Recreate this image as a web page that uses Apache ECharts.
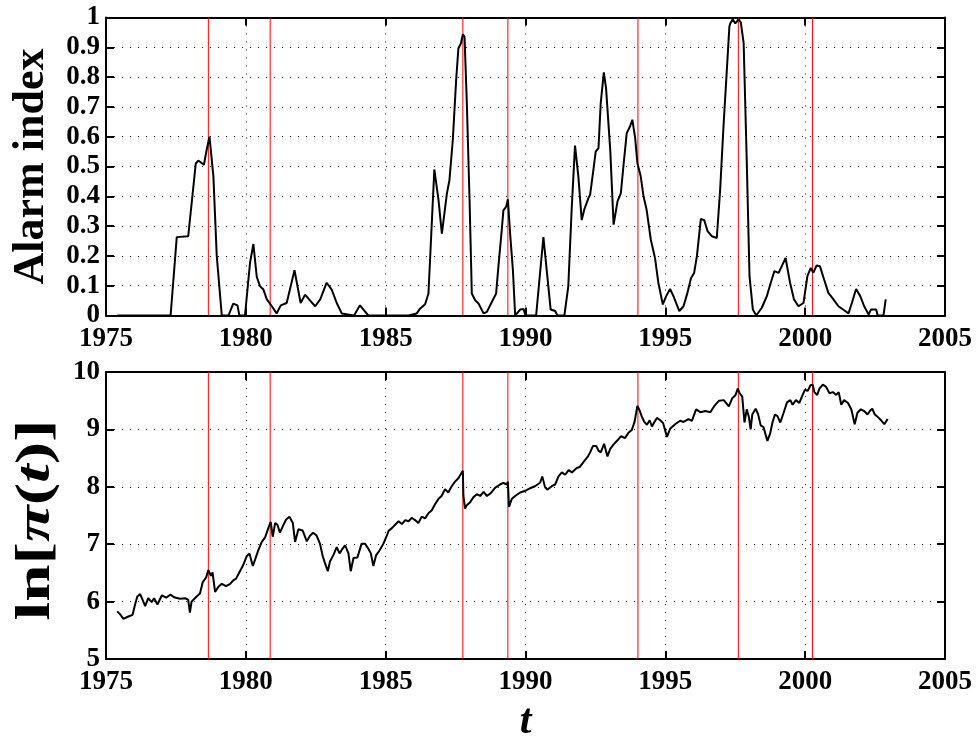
<!DOCTYPE html>
<html>
<head>
<meta charset="utf-8">
<script src="https://cdn.jsdelivr.net/npm/echarts@6/dist/echarts.min.js"></script>
<style>
html,body{margin:0;padding:0;background:#fff;}
#chart{width:978px;height:744px;}
</style>
</head>
<body>
<div id="chart"></div>
<script>
// ---- Data ----
const crashYears = [1978.66, 1980.87, 1987.76, 1989.37, 1994.02, 1997.61, 2000.26];

const alarmYears = [1975.40,1977.31,1977.53,1977.94,1978.21,1978.30,1978.50,1978.60,1978.70,1978.84,1978.96,1979.14,1979.38,1979.55,1979.70,1979.77,1979.97,1980.15,1980.27,1980.39,1980.51,1980.63,1980.75,1980.93,1981.10,1981.25,1981.46,1981.74,1981.96,1982.12,1982.30,1982.48,1982.66,1982.89,1983.07,1983.25,1983.43,1983.87,1984.08,1984.38,1985.81,1986.11,1986.23,1986.41,1986.53,1986.74,1986.89,1987.01,1987.07,1987.19,1987.28,1987.40,1987.52,1987.60,1987.69,1987.76,1987.82,1987.90,1988.00,1988.08,1988.20,1988.32,1988.50,1988.62,1988.80,1988.95,1989.03,1989.15,1989.21,1989.31,1989.37,1989.45,1989.55,1989.63,1989.69,1989.81,1989.93,1990.00,1990.38,1990.64,1990.90,1991.06,1991.14,1991.39,1991.53,1991.65,1991.77,1991.89,1992.01,1992.10,1992.25,1992.31,1992.43,1992.51,1992.61,1992.69,1992.80,1992.88,1993.03,1993.15,1993.29,1993.41,1993.50,1993.62,1993.74,1993.82,1993.92,1994.00,1994.12,1994.22,1994.33,1994.48,1994.63,1994.75,1994.91,1995.03,1995.17,1995.29,1995.50,1995.65,1995.79,1995.92,1996.03,1996.13,1996.27,1996.39,1996.51,1996.66,1996.84,1996.96,1997.08,1997.20,1997.29,1997.32,1997.41,1997.50,1997.62,1997.70,1997.80,1997.91,1998.01,1998.13,1998.25,1998.45,1998.63,1998.77,1998.90,1999.05,1999.16,1999.30,1999.46,1999.60,1999.76,1999.94,2000.08,2000.20,2000.29,2000.41,2000.53,2000.68,2000.83,2001.01,2001.19,2001.43,2001.55,2001.67,2001.82,2001.97,2002.11,2002.27,2002.35,2002.54,2002.59,2002.80,2002.88];
const alarmValues = [0,0,0.263,0.266,0.51,0.52,0.506,0.556,0.60,0.467,0.20,0,0,0.04,0.034,0,0,0.177,0.24,0.13,0.098,0.087,0.054,0.031,0.007,0.034,0.042,0.152,0.042,0.07,0.05,0.031,0.054,0.11,0.087,0.042,0.007,0,0.034,0,0,0.007,0.023,0.038,0.074,0.49,0.387,0.275,0.28,0.41,0.454,0.588,0.79,0.896,0.913,0.944,0.935,0.72,0.387,0.074,0.051,0.04,0.007,0.012,0.046,0.074,0.163,0.286,0.353,0.365,0.39,0.275,0.152,0,0,0.02,0.022,0,0,0.263,0.02,0.015,0,0,0.098,0.355,0.57,0.467,0.32,0.355,0.394,0.405,0.49,0.55,0.562,0.713,0.816,0.763,0.556,0.305,0.383,0.411,0.50,0.612,0.635,0.657,0.596,0.512,0.467,0.40,0.355,0.255,0.193,0.11,0.037,0.065,0.089,0.065,0.015,0.031,0.076,0.126,0.143,0.20,0.324,0.32,0.283,0.266,0.26,0.422,0.635,0.825,0.97,0.98,0.994,0.98,0.994,0.983,0.914,0.523,0.132,0.02,0,0.026,0.065,0.11,0.149,0.143,0.165,0.193,0.11,0.054,0.031,0.042,0.132,0.16,0.143,0.168,0.165,0.12,0.076,0.054,0.031,0.015,0.007,0.042,0.089,0.065,0.031,0.003,0.02,0.02,0,0,0.054];

const priceYears = [1975.40,1975.52,1975.62,1975.80,1975.95,1976.04,1976.12,1976.22,1976.31,1976.40,1976.51,1976.63,1976.72,1976.84,1977.00,1977.15,1977.30,1977.46,1977.65,1977.83,1977.94,1978.00,1978.06,1978.24,1978.36,1978.46,1978.58,1978.66,1978.75,1978.81,1978.90,1979.02,1979.14,1979.29,1979.44,1979.55,1979.65,1979.77,1979.89,1980.03,1980.13,1980.25,1980.33,1980.45,1980.57,1980.69,1980.81,1980.89,1980.96,1981.05,1981.13,1981.22,1981.32,1981.44,1981.56,1981.68,1981.76,1981.88,1982.03,1982.18,1982.30,1982.41,1982.53,1982.65,1982.75,1982.83,1982.93,1983.01,1983.13,1983.25,1983.35,1983.43,1983.55,1983.67,1983.75,1983.85,1983.99,1984.14,1984.26,1984.38,1984.47,1984.56,1984.66,1984.78,1984.92,1985.06,1985.10,1985.22,1985.34,1985.46,1985.58,1985.70,1985.82,1985.93,1986.05,1986.17,1986.29,1986.41,1986.53,1986.65,1986.77,1986.89,1987.00,1987.12,1987.24,1987.36,1987.48,1987.60,1987.70,1987.76,1987.78,1987.84,1987.90,1988.02,1988.14,1988.26,1988.38,1988.50,1988.62,1988.76,1988.91,1989.09,1989.21,1989.33,1989.37,1989.41,1989.51,1989.63,1989.81,1989.99,1990.14,1990.34,1990.52,1990.60,1990.70,1990.78,1990.94,1991.06,1991.18,1991.30,1991.42,1991.54,1991.66,1991.81,1991.95,1992.07,1992.22,1992.31,1992.41,1992.53,1992.61,1992.69,1992.81,1992.93,1993.03,1993.15,1993.29,1993.41,1993.56,1993.68,1993.80,1993.90,1994.00,1994.08,1994.16,1994.25,1994.34,1994.44,1994.52,1994.61,1994.70,1994.82,1994.92,1995.00,1995.06,1995.17,1995.35,1995.53,1995.65,1995.83,1995.95,1996.10,1996.25,1996.43,1996.61,1996.74,1996.92,1997.09,1997.27,1997.39,1997.51,1997.59,1997.66,1997.75,1997.83,1997.91,1997.99,1998.05,1998.11,1998.23,1998.32,1998.41,1998.51,1998.59,1998.65,1998.75,1998.83,1998.92,1999.01,1999.11,1999.23,1999.35,1999.47,1999.55,1999.67,1999.79,1999.91,1999.99,2000.09,2000.19,2000.27,2000.33,2000.43,2000.51,2000.63,2000.75,2000.87,2000.99,2001.11,2001.20,2001.29,2001.39,2001.53,2001.65,2001.77,2001.87,2001.99,2002.11,2002.23,2002.31,2002.40,2002.49,2002.61,2002.73,2002.83,2002.95];
const priceValues = [5.83,5.77,5.70,5.74,5.77,5.95,6.09,6.13,6.03,5.92,6.06,5.99,6.06,5.95,6.11,6.07,6.12,6.07,6.05,6.06,6.03,5.81,6.00,6.09,6.14,6.34,6.42,6.55,6.45,6.51,6.17,6.26,6.31,6.27,6.31,6.37,6.40,6.51,6.62,6.79,6.84,6.62,6.73,6.90,7.04,7.12,7.29,7.39,7.13,7.37,7.34,7.20,7.31,7.43,7.48,7.37,7.04,7.26,7.24,7.05,7.15,7.20,7.15,7.01,6.79,6.67,6.53,6.70,6.81,6.95,6.84,6.90,6.98,6.84,6.53,6.76,6.77,7.01,7.01,6.92,6.84,6.62,6.81,6.89,7.01,7.17,7.23,7.28,7.34,7.40,7.35,7.42,7.40,7.46,7.42,7.37,7.48,7.45,7.54,7.59,7.70,7.79,7.84,7.96,7.90,8.01,8.09,8.15,8.23,8.28,7.84,7.62,7.68,7.73,7.82,7.87,7.84,7.91,7.84,7.89,7.98,8.04,8.07,8.04,8.09,7.65,7.79,7.84,7.90,7.93,7.97,8.01,8.07,8.18,7.99,7.95,8.01,8.04,8.18,8.25,8.21,8.29,8.25,8.32,8.35,8.43,8.52,8.60,8.71,8.71,8.63,8.60,8.75,8.53,8.66,8.74,8.81,8.88,8.85,8.94,8.99,9.13,9.41,9.33,9.22,9.13,9.08,9.16,9.05,9.13,9.20,9.16,9.11,8.97,8.87,9.01,9.09,9.15,9.13,9.18,9.15,9.35,9.30,9.32,9.30,9.40,9.50,9.51,9.40,9.54,9.60,9.71,9.63,9.57,9.12,9.35,9.21,9.00,9.26,9.36,9.26,9.07,9.04,8.90,8.80,8.93,9.12,9.26,9.23,9.12,9.29,9.47,9.51,9.43,9.51,9.46,9.60,9.69,9.67,9.77,9.78,9.65,9.60,9.71,9.78,9.74,9.63,9.65,9.60,9.65,9.43,9.51,9.46,9.35,9.09,9.29,9.35,9.32,9.26,9.32,9.36,9.26,9.21,9.15,9.09,9.18];

// ---- Styles ----
const FONT = "'Liberation Serif','Times New Roman',serif";
const black = '#000';
const labelStyle = {fontSize: 27, fontWeight: 'bold', color: black, fontFamily: FONT};
const gridLine = {show: true, lineStyle: {type: [1, 7], color: '#222', width: 1}};
const axisLineS = {show: true, onZero: false, lineStyle: {color: black, width: 2}};
const tickS = {show: true, inside: true, length: 8, lineStyle: {color: black, width: 2}};

const alarmRange = [0, 1];
const priceRange = [5, 10];

function fmtAlarm(v) {
  const r = Math.round(v * 10) / 10;
  if (r === 0) return '0';
  if (r === 1) return '1';
  return r.toFixed(1);
}

const chart = echarts.init(document.getElementById('chart'), null, {renderer: 'canvas'});

function xMain(gridIndex, extra) {
  return Object.assign({
    type: 'value', gridIndex, position: 'bottom', min: 1975, max: 2005, interval: 5,
    axisLine: axisLineS, axisTick: tickS,
    axisLabel: Object.assign({margin: 10, formatter: v => String(v)}, labelStyle),
    splitLine: gridLine
  }, extra || {});
}
function xTop(gridIndex) {
  return {type: 'value', gridIndex, position: 'top', min: 1975, max: 2005, interval: 5,
    axisLine: axisLineS, axisTick: tickS, axisLabel: {show: false}, splitLine: {show: false}};
}
function yRight(gridIndex, min, max, interval) {
  return {type: 'value', gridIndex, position: 'right', min, max, interval,
    axisLine: axisLineS, axisTick: tickS, axisLabel: {show: false}, splitLine: {show: false}};
}

function crashSeries(xAxisIndex, yAxisIndex, range) {
  return crashYears.map(x => ({
    type: 'line', xAxisIndex, yAxisIndex,
    data: [[x, range[0]], [x, range[1]]],
    showSymbol: false, symbol: 'none', silent: true, z: 3,
    lineStyle: {color: '#ff0000', width: 1},
    emphasis: {disabled: true}
  }));
}

chart.setOption({
  animation: false,
  backgroundColor: '#fff',
  grid: [
    {left: 106, top: 17.5, width: 839, height: 298},
    {left: 106, top: 372, width: 839, height: 298}
  ],
  graphic: [{
    type: 'text', x: 37, y: 520, rotation: Math.PI / 2, scaleX: 1.4, scaleY: 1, silent: true,
    style: {
      text: '{a|ln[}{b|π}{a|(}{b|t}{a|)]}',
      align: 'center', verticalAlign: 'middle',
      rich: {
        a: {fontSize: 48, fontWeight: 'bold', fill: black, fontFamily: FONT},
        b: {fontSize: 48, fontWeight: 'bold', fontStyle: 'italic', fill: black, fontFamily: FONT}
      }
    }
  }],
  xAxis: [
    xMain(0),
    xTop(0),
    xMain(1, {
      name: 't', nameLocation: 'middle', nameGap: 42,
      nameTextStyle: {fontSize: 42, fontWeight: 'bold', fontStyle: 'italic', color: black, fontFamily: FONT}
    }),
    xTop(1)
  ],
  yAxis: [
    {
      type: 'value', gridIndex: 0, position: 'left', min: alarmRange[0], max: alarmRange[1], interval: 0.1,
      axisLine: axisLineS, axisTick: tickS,
      axisLabel: Object.assign({margin: 6, formatter: fmtAlarm}, labelStyle),
      splitLine: gridLine,
      name: 'Alarm index', nameLocation: 'middle', nameGap: 52,
      nameTextStyle: {fontSize: 44, fontWeight: 'bold', color: black, fontFamily: FONT}
    },
    yRight(0, alarmRange[0], alarmRange[1], 0.1),
    {
      type: 'value', gridIndex: 1, position: 'left', min: priceRange[0], max: priceRange[1], interval: 1,
      axisLine: axisLineS, axisTick: tickS,
      axisLabel: Object.assign({margin: 6}, labelStyle),
      splitLine: gridLine
    },
    yRight(1, priceRange[0], priceRange[1], 1)
  ],
  series: [
    {
      type: 'line', xAxisIndex: 0, yAxisIndex: 0, z: 4,
      data: alarmYears.map((x, i) => [x, alarmValues[i]]),
      showSymbol: false, symbol: 'none', clip: true,
      lineStyle: {color: black, width: 2}
    },
    {
      type: 'line', xAxisIndex: 2, yAxisIndex: 2, z: 4,
      data: priceYears.map((x, i) => [x, priceValues[i]]),
      showSymbol: false, symbol: 'none', clip: true,
      lineStyle: {color: black, width: 2}
    }
  ].concat(crashSeries(0, 0, alarmRange), crashSeries(2, 2, priceRange))
});
</script>
</body>
</html>
